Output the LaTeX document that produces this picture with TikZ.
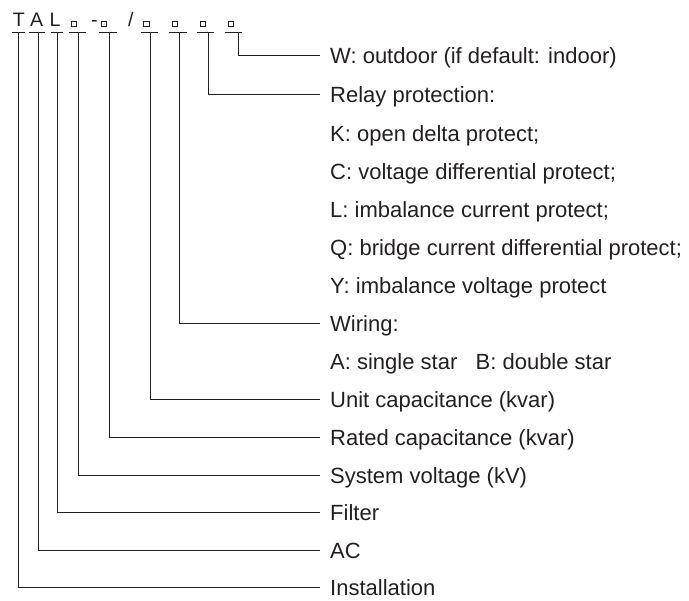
\documentclass[tikz,border=0pt]{standalone}
\usepackage{fontspec}
\setmainfont{Liberation Sans}
\definecolor{ink}{RGB}{35,31,32}
\begin{document}
\begin{tikzpicture}[x=1pt,y=-1pt,
  lbl/.style={anchor=west, inner xsep=10pt, inner ysep=0pt, text height=17pt, text depth=0pt, font=\fontsize{22}{24}\selectfont, text=ink},
  code/.style={anchor=base west, inner sep=0pt, font=\fontsize{19.5}{22}\selectfont, text=ink},
  ph/.style={draw=ink, line width=0.8pt, minimum size=5.5pt, inner sep=0pt},
  ul/.style={draw=ink, line width=0.9pt},
  conn/.style={draw=ink, line width=0.9pt}]
\useasboundingbox (0,0) rectangle (689,601);
% code row
\node[code] (cT) at (12.6,26.7) {T};
\node[code] (cA) at (30,26.7) {A};
\node[code] (cL) at (49.3,26.7) {L};
\node[ph] (b1) at (73.7,23.7) {};
\node[code] (dash) at (90.8,26.7) {-};
\node[ph] (b2) at (103.7,23.7) {};
\node[code] (sl) at (128,26.7) {/};
\node[ph] (b3) at (146.3,23.7) {};
\node[ph] (b4) at (175,23.7) {};
\node[ph] (b5) at (203,23.7) {};
\node[ph] (b6) at (231,23.7) {};
% underlines
\draw[ul] (12,32) -- (25,32);
\draw[ul] (29,32) -- (45,32);
\draw[ul] (51,32) -- (63,32);
\draw[ul] (69,32) -- (86,32);
\draw[ul] (99,32) -- (117,32);
\draw[ul] (141,32) -- (158,32);
\draw[ul] (169,32) -- (187,32);
\draw[ul] (197,32) -- (214,32);
\draw[ul] (225,32) -- (242,32);
\coordinate (uT) at (18.3,32);
\coordinate (uA) at (38,32);
\coordinate (uL) at (57.3,32);
\coordinate (u1) at (78.7,32);
\coordinate (u2) at (109,32);
\coordinate (u3) at (150.5,32);
\coordinate (u4) at (179.5,32);
\coordinate (u5) at (208,32);
\coordinate (u6) at (238,32);
% labels
\node[lbl] (tW) at (320,55) {W: outdoor (if default: indoor)};
\node[lbl] (tRelay) at (320,94.5) {Relay protection:};
\node[lbl] (tK) at (320,132.6) {K: open delta protect;};
\node[lbl] (tC) at (320,170.7) {C: voltage differential protect;};
\node[lbl] (tL) at (320,208.8) {L: imbalance current protect;};
\node[lbl] (tQ) at (320,246.8) {Q: bridge current differential protect;};
\node[lbl] (tY) at (320,284.9) {Y: imbalance voltage protect};
\node[lbl] (tWiring) at (320,323) {Wiring:};
\node[lbl] (tAB) at (320,361) {A: single star~~ B: double star};
\node[lbl] (tUnit) at (320,399) {Unit capacitance (kvar)};
\node[lbl] (tRated) at (320,437) {Rated capacitance (kvar)};
\node[lbl] (tSys) at (320,475.5) {System voltage (kV)};
\node[lbl] (tFilter) at (320,512.5) {Filter};
\node[lbl] (tAC) at (320,550.5) {AC};
\node[lbl] (tInst) at (320,587.5) {Installation};
% connectors
\draw[conn] (u6) |- (tW.west);
\draw[conn] (u5) |- (tRelay.west);
\draw[conn] (u4) |- (tWiring.west);
\draw[conn] (u3) |- (tUnit.west);
\draw[conn] (u2) |- (tRated.west);
\draw[conn] (u1) |- (tSys.west);
\draw[conn] (uL) |- (tFilter.west);
\draw[conn] (uA) |- (tAC.west);
\draw[conn] (uT) |- (tInst.west);
\end{tikzpicture}
\end{document}
